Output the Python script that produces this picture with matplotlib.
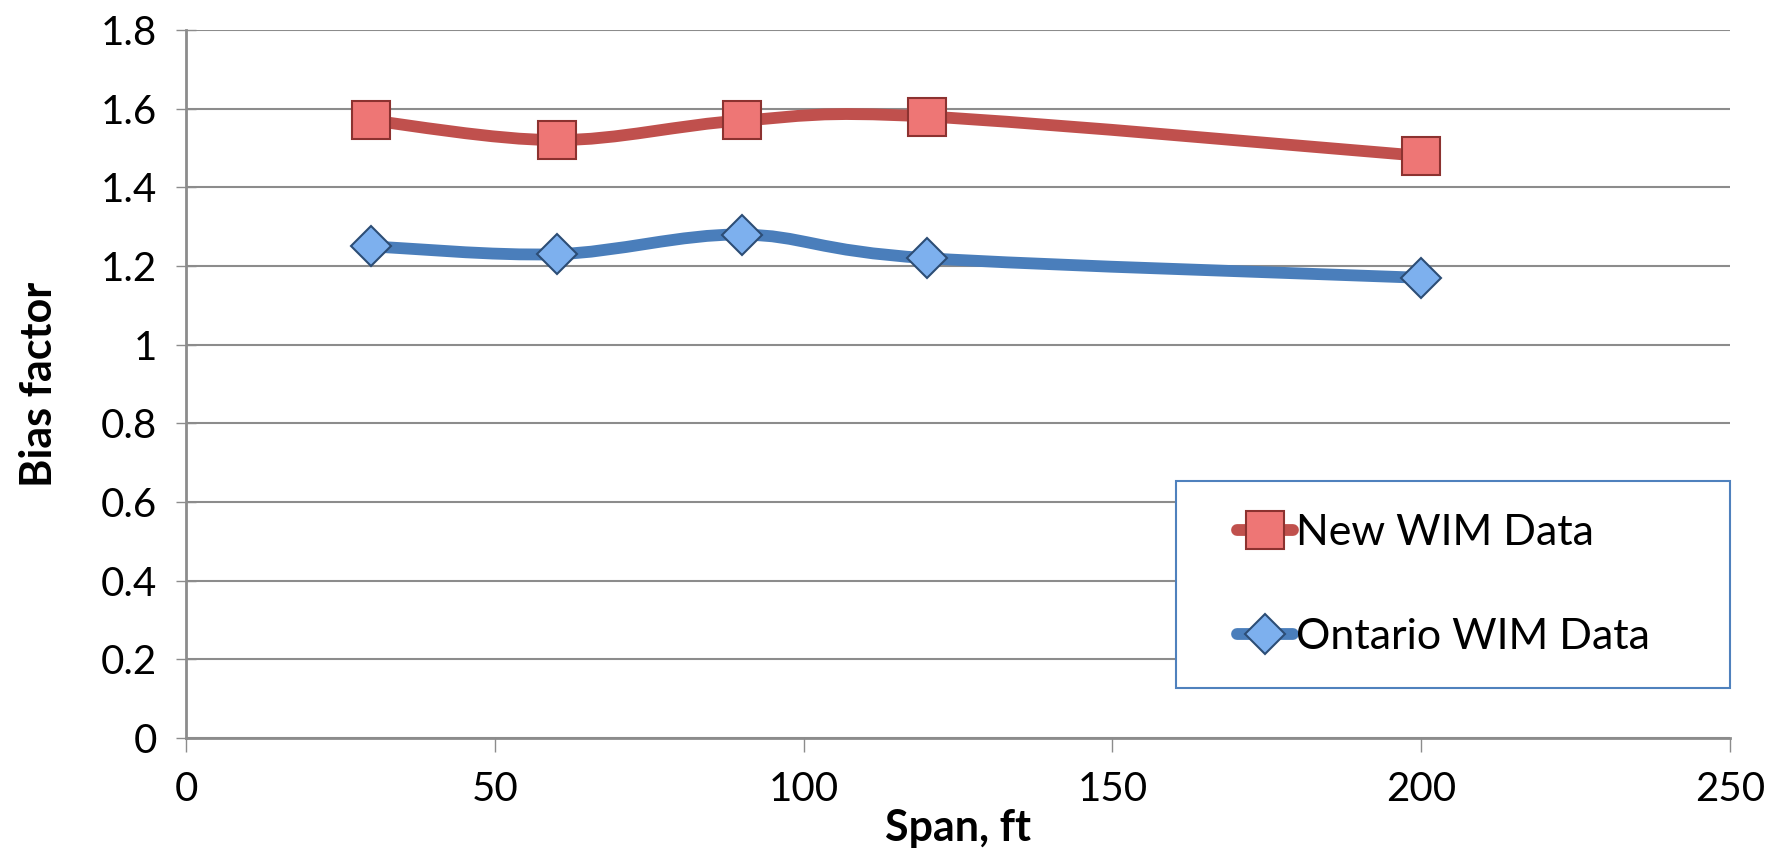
import matplotlib.pyplot as plt
from matplotlib.path import Path
from matplotlib.patches import PathPatch, Rectangle
from matplotlib.lines import Line2D

# data
span_ft = [30, 60, 90, 120, 200]
new_wim = [1.57, 1.52, 1.57, 1.58, 1.48]
ontario_wim = [1.25, 1.23, 1.28, 1.22, 1.17]

x_ticks = [0, 50, 100, 150, 200, 250]
y_ticks = [0, 0.2, 0.4, 0.6, 0.8, 1.0, 1.2, 1.4, 1.6, 1.8]
y_labels = ['0', '0.2', '0.4', '0.6', '0.8', '1', '1.2', '1.4', '1.6', '1.8']

RED, RED_FILL, RED_EDGE = '#C0504D', '#EE7675', '#8C3230'
BLUE, BLUE_FILL, BLUE_EDGE = '#4A7EBB', '#7DB0EE', '#2C4D75'

plt.rcParams['font.family'] = ['Lato', 'DejaVu Sans']


def smooth_path(xs, ys):
    # excel-style smoothed line: cubic bezier through the data points
    pts = list(zip(xs, ys))
    verts = [pts[0]]
    codes = [Path.MOVETO]
    n = len(pts)
    for i in range(n - 1):
        p0 = pts[i - 1] if i > 0 else pts[i]
        p1 = pts[i]
        p2 = pts[i + 1]
        p3 = pts[i + 2] if i + 2 < n else pts[i + 1]
        c1 = (p1[0] + (p2[0] - p0[0]) / 6, p1[1] + (p2[1] - p0[1]) / 6)
        c2 = (p2[0] - (p3[0] - p1[0]) / 6, p2[1] - (p3[1] - p1[1]) / 6)
        verts += [c1, c2, p2]
        codes += [Path.CURVE4] * 3
    return Path(verts, codes)


fig = plt.figure(figsize=(17.88, 8.48), dpi=100)
ax = fig.add_axes([0.104, 0.1297, 0.8636, 0.8349])

for ys, col in [(new_wim, RED), (ontario_wim, BLUE)]:
    ax.add_patch(PathPatch(smooth_path(span_ft, ys), fill=False, edgecolor=col,
                           lw=8.5, capstyle='round', joinstyle='round', zorder=3))

ax.plot(span_ft, new_wim, ls='none', marker='s', ms=28, mfc=RED_FILL,
        mec=RED_EDGE, mew=1.5, zorder=4)
ax.plot(span_ft, ontario_wim, ls='none', marker='D', ms=20, mfc=BLUE_FILL,
        mec=BLUE_EDGE, mew=1.5, zorder=4)

ax.set_xlim(0, 250)
ax.set_ylim(0, 1.8)
ax.set_xticks(x_ticks)
ax.set_yticks(y_ticks)
ax.set_yticklabels(y_labels)
ax.grid(axis='y', color='#8C8C8C', lw=1.5)
ax.set_axisbelow(True)

for s in ['top', 'right']:
    ax.spines[s].set_visible(False)
for s in ['left', 'bottom']:
    ax.spines[s].set_color('#8C8C8C')
    ax.spines[s].set_linewidth(2)

ax.tick_params(axis='x', direction='out', length=10, width=1, color='#8C8C8C',
               labelsize=29, pad=14)
ax.tick_params(axis='y', direction='inout', length=14, width=1, color='#8C8C8C',
               labelsize=29, pad=14)

ax.set_xlabel('Span, ft', fontsize=31, fontweight='bold', labelpad=0)
ax.set_ylabel('Bias factor', fontsize=31, fontweight='bold', labelpad=30)

# legend box drawn by hand so the entries can sit inset like the original
ax.add_patch(Rectangle((0.641, 0.0706), 0.359, 0.293, transform=ax.transAxes,
                       facecolor='white', edgecolor='#4F81BD', lw=1.5,
                       zorder=5, clip_on=False))
handles = [
    Line2D([], [], color=RED, lw=8.5, solid_capstyle='round', marker='s', ms=28,
           mfc=RED_FILL, mec=RED_EDGE, mew=1.5),
    Line2D([], [], color=BLUE, lw=8.5, solid_capstyle='round', marker='D', ms=20,
           mfc=BLUE_FILL, mec=BLUE_EDGE, mew=1.5),
]
leg = ax.legend(handles, ['New WIM Data', 'Ontario WIM Data'],
                loc='center left', bbox_to_anchor=(0.681, 0.216),
                fontsize=31, frameon=False, handlelength=1.3,
                handletextpad=0.05, labelspacing=1.55, borderpad=0,
                borderaxespad=0, numpoints=1)
leg.set_zorder(6)

fig.savefig('out.png', dpi=100)
